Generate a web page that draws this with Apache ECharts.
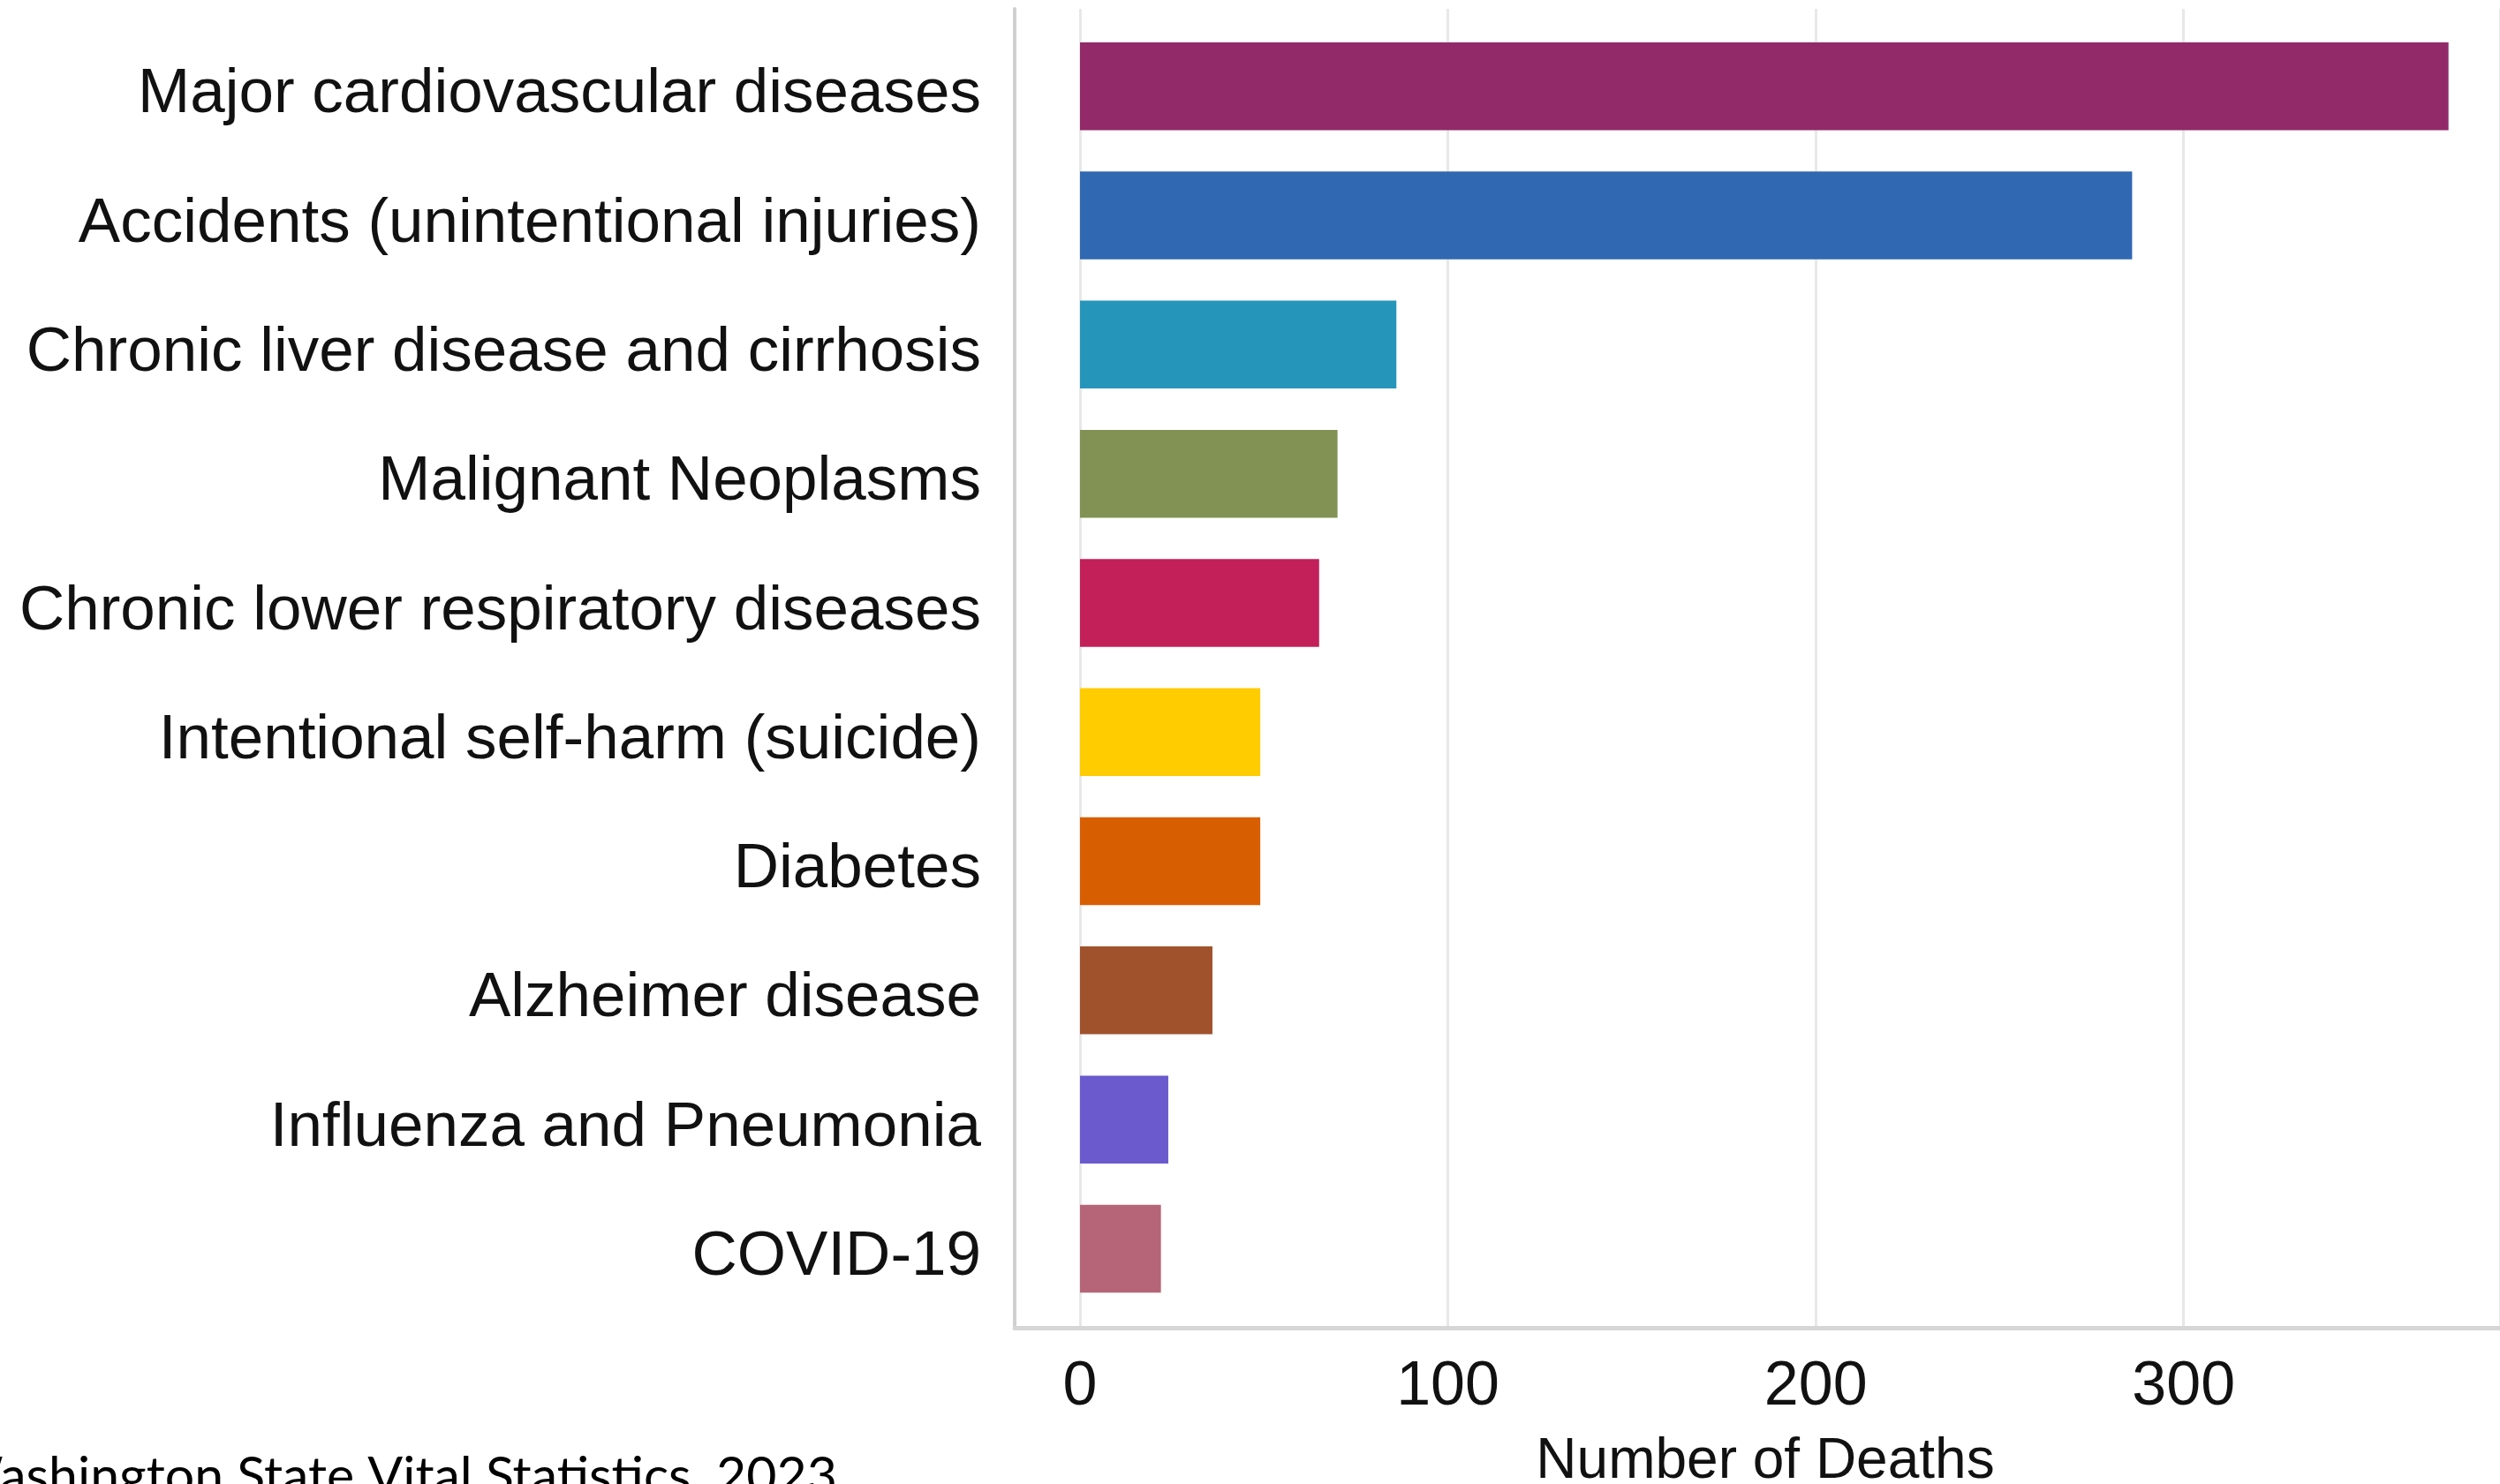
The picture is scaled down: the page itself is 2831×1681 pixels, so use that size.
<!DOCTYPE html>
<html>
<head>
<meta charset="utf-8">
<script src="https://cdn.jsdelivr.net/npm/echarts@6/dist/echarts.min.js"></script>
<style>
html,body{margin:0;padding:0;background:#fff;}
#chart{width:2831px;height:1681px;}
</style>
</head>
<body>
<div id="chart"></div>
<script>
// ---- data ----
const categories = [
  "Major cardiovascular diseases",
  "Accidents (unintentional injuries)",
  "Chronic liver disease and cirrhosis",
  "Malignant Neoplasms",
  "Chronic lower respiratory diseases",
  "Intentional self-harm (suicide)",
  "Diabetes",
  "Alzheimer disease",
  "Influenza and Pneumonia",
  "COVID-19"
];
const deaths = [372, 286, 86, 70, 65, 49, 49, 36, 24, 22];
const barColors = ["#922A6A", "#3068B1", "#2596BA", "#819254", "#C31F58",
                   "#FFCC00", "#D85E02", "#A0522D", "#6A5ACD", "#B56577"];
const xTicks = [0, 100, 200, 300];
const xTitle = "Number of Deaths";
const sourceText = "Washington State Vital Statistics, 2023";

// ---- chart ----
const chart = echarts.init(document.getElementById('chart'));
const FONT = "'Liberation Sans', Arial, sans-serif";
const XMAX = 386;

const option = {
  backgroundColor: '#ffffff',
  animation: false,
  grid: [
    // 0: gridlines + tick labels
    {left: 1223, right: 0, top: 10, bottom: 177},
    // 1: bars
    {left: 1223, right: 0, top: 24.6, bottom: 193.4},
    // 2: panel axis lines
    {left: 1149, right: 0, top: 10, bottom: 177},
    // 3: category labels (same band layout, nudged for glyph centring)
    {left: 1223, right: 0, top: 34.6, bottom: 183.4}
  ],
  xAxis: [
    {
      gridIndex: 0, type: 'value', min: 0, max: XMAX, interval: 100,
      axisLine: {show: false}, axisTick: {show: false},
      splitLine: {show: true, lineStyle: {color: '#e8e8e8', width: 3}},
      axisLabel: {
        show: true, fontSize: 70, color: '#111', fontFamily: FONT, margin: 33,
        showMaxLabel: false,
        formatter: v => (xTicks.indexOf(v) >= 0 ? String(v) : '')
      }
    },
    {
      gridIndex: 1, type: 'value', min: 0, max: XMAX, show: false,
      splitLine: {show: false}
    },
    {
      gridIndex: 2, type: 'value', min: 0, max: 1, position: 'bottom',
      axisLine: {show: true, lineStyle: {color: '#d6d6d6', width: 5}},
      axisTick: {show: false}, axisLabel: {show: false}, splitLine: {show: false}
    },
    {
      gridIndex: 3, type: 'value', min: 0, max: XMAX, show: false,
      splitLine: {show: false}
    }
  ],
  yAxis: [
    {gridIndex: 0, type: 'value', show: false, splitLine: {show: false}},
    {
      gridIndex: 1, type: 'category', data: categories, inverse: true,
      axisLine: {show: false}, axisTick: {show: false},
      splitLine: {show: false}, axisLabel: {show: false}
    },
    {
      gridIndex: 2, type: 'value', min: 0, max: 1, position: 'left',
      axisLine: {show: true, lineStyle: {color: '#d0d0d0', width: 4}},
      axisTick: {show: false}, axisLabel: {show: false}, splitLine: {show: false}
    },
    {
      gridIndex: 3, type: 'category', data: categories, inverse: true,
      axisLine: {show: false}, axisTick: {show: false},
      splitLine: {show: false},
      axisLabel: {fontSize: 71, color: '#111', fontFamily: FONT, margin: 112}
    }
  ],
  series: [
    {
      type: 'bar', xAxisIndex: 1, yAxisIndex: 1,
      barWidth: '68%',
      data: deaths.map((v, i) => ({value: v, itemStyle: {color: barColors[i]}}))
    }
  ],
  graphic: [
    {
      type: 'text', x: 1999, y: 1656,
      style: {text: xTitle, fontSize: 64, fontFamily: FONT, fill: '#111',
              textAlign: 'center', textVerticalAlign: 'middle'}
    },
    {
      type: 'text', x: 948, y: 1673,
      style: {text: sourceText, fontSize: 59, fontFamily: "Lato, 'Open Sans', sans-serif", fill: '#000',
              textAlign: 'right', textVerticalAlign: 'middle'}
    }
  ]
};
chart.setOption(option);
</script>
</body>
</html>
